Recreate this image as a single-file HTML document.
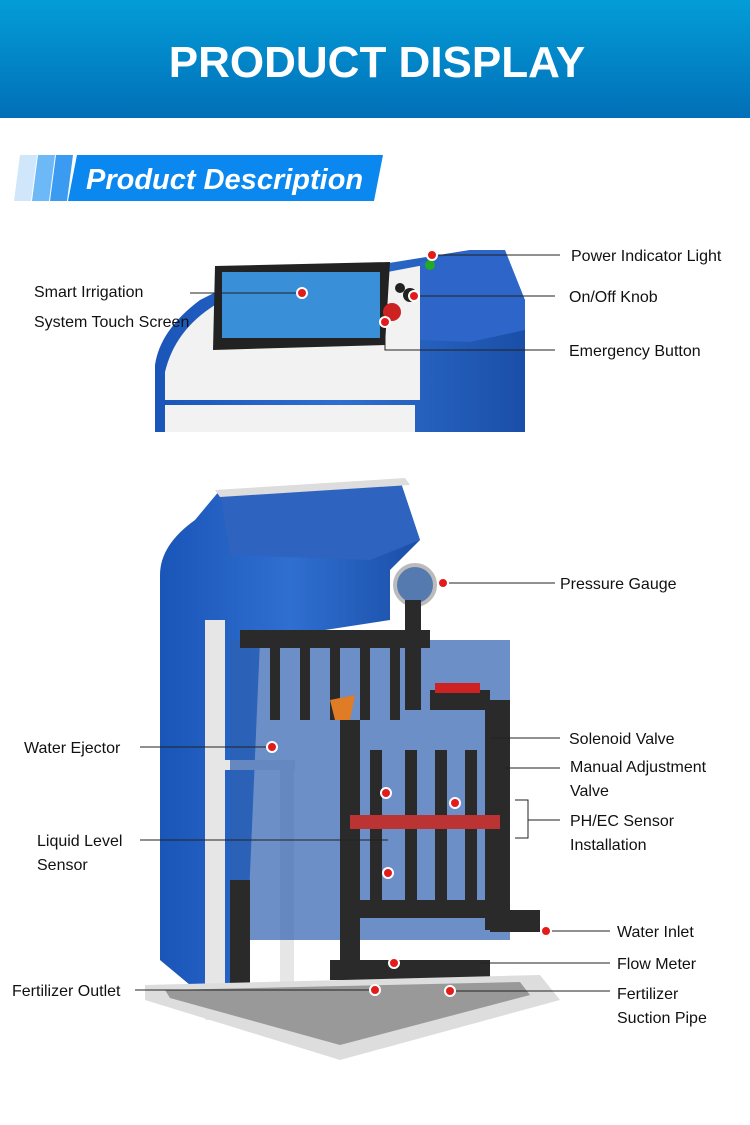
<!DOCTYPE html>
<html><head><meta charset="utf-8"><style>
body{margin:0;width:750px;height:1120px;overflow:hidden;background:#fff;font-family:"Liberation Sans",sans-serif}
</style></head><body>
<svg width="750" height="1120" xmlns="http://www.w3.org/2000/svg" font-family="Liberation Sans, sans-serif">
<defs>
<linearGradient id="hg" x1="0" y1="0" x2="0" y2="1"><stop offset="0" stop-color="#039dd8"/><stop offset="1" stop-color="#026fb7"/></linearGradient>
<linearGradient id="bl" x1="0" y1="0" x2="1" y2="0"><stop offset="0" stop-color="#1a55b8"/><stop offset="0.5" stop-color="#2f6fd0"/><stop offset="1" stop-color="#1a4fa8"/></linearGradient>
</defs>
<rect width="750" height="118" fill="url(#hg)"/>
<text x="377" y="77" text-anchor="middle" fill="#fff" font-size="44" font-weight="bold">PRODUCT DISPLAY</text>
<polygon points="20,155 37,155 31,201 14,201" fill="#cfe6fb"/>
<polygon points="38,155 55,155 49,201 32,201" fill="#6db8f6"/>
<polygon points="56,155 73,155 67,201 50,201" fill="#3a9bf0"/>
<polygon points="77,155 383,155 374,201 68,201" fill="#0a88f0"/>
<text x="86" y="189" fill="#fff" font-size="29" font-weight="bold" font-style="italic">Product Description</text>

<path d="M155,432 L155,365 Q160,330 200,300 L220,290 L470,250 L490,250 L525,330 L525,432 Z" fill="url(#bl)"/>
<path d="M165,432 L165,372 Q175,330 215,305 L440,262 L470,262 L420,340 L420,400 L165,400 Z" fill="#f2f2f2"/>
<rect x="165" y="405" width="250" height="27" fill="#f2f2f2"/>
<polygon points="420,262 470,250 505,250 525,300 525,330 470,342 420,340" fill="#2d66c8"/>
<polygon points="215,266 390,262 385,345 213,350" fill="#222"/>
<rect x="222" y="272" width="158" height="66" fill="#3a90d8"/>
<circle cx="392" cy="312" r="9" fill="#c22"/>
<circle cx="400" cy="288" r="5" fill="#222"/><circle cx="410" cy="295" r="7" fill="#222"/><circle cx="430" cy="265" r="5" fill="#2a2"/>

<path d="M160,575 Q160,545 195,520 L220,490 L400,480 L420,540 L390,570 L390,620 L260,640 L245,990 L190,985 L160,960 Z" fill="url(#bl)"/>
<polygon points="220,490 400,480 420,540 370,560 230,555" fill="#2e64c0"/>
<polygon points="215,490 405,478 410,485 220,497" fill="#ddd"/>
<circle cx="415" cy="585" r="20" fill="#557ab0" stroke="#bbb" stroke-width="4"/>
<rect x="205" y="620" width="20" height="400" fill="#e6e6e6"/>
<rect x="280" y="770" width="14" height="260" fill="#e6e6e6"/>
<rect x="205" y="760" width="90" height="10" fill="#e6e6e6"/>
<rect x="230" y="640" width="280" height="300" fill="#2d5fb0" opacity="0.7"/>
<g fill="#2a2a2a">
<rect x="240" y="630" width="190" height="18"/>
<rect x="270" y="640" width="10" height="80"/><rect x="300" y="640" width="10" height="80"/><rect x="330" y="640" width="10" height="80"/><rect x="360" y="640" width="10" height="80"/><rect x="390" y="640" width="10" height="80"/>
<rect x="405" y="600" width="16" height="110"/>
<rect x="340" y="720" width="20" height="260"/>
<rect x="485" y="700" width="25" height="230"/>
<rect x="490" y="910" width="50" height="22"/>
<rect x="370" y="750" width="12" height="150"/><rect x="405" y="750" width="12" height="150"/><rect x="435" y="750" width="12" height="150"/><rect x="465" y="750" width="12" height="150"/>
<rect x="230" y="880" width="20" height="110"/>
<rect x="330" y="960" width="160" height="20"/>
<rect x="350" y="900" width="150" height="18"/>
<rect x="430" y="690" width="60" height="20"/>
</g>
<polygon points="330,700 355,695 350,720 335,720" fill="#e07b26"/>
<rect x="350" y="815" width="150" height="14" fill="#b33"/>
<rect x="435" y="683" width="45" height="10" fill="#c22"/>
<polygon points="145,985 540,975 560,1000 340,1060 145,1000" fill="#ddd"/>
<polygon points="165,990 520,982 530,995 340,1045 170,998" fill="#999"/>

<g stroke="#222" stroke-width="1" fill="none">
<line x1="190" y1="293" x2="300" y2="293"/>
<line x1="432" y1="255" x2="560" y2="255"/>
<line x1="414" y1="296" x2="555" y2="296"/>
<polyline points="385,322 385,350 555,350"/>
<line x1="443" y1="583" x2="555" y2="583"/>
<line x1="140" y1="747" x2="272" y2="747"/>
<line x1="140" y1="840" x2="388" y2="840"/>
<line x1="490" y1="738" x2="560" y2="738"/>
<line x1="505" y1="768" x2="560" y2="768"/>
<polyline points="515,800 528,800 528,838 515,838"/>
<line x1="528" y1="820" x2="560" y2="820"/>
<line x1="548" y1="931" x2="610" y2="931"/>
<line x1="480" y1="963" x2="610" y2="963"/>
<line x1="450" y1="991" x2="610" y2="991"/>
<line x1="135" y1="990" x2="375" y2="990"/>
</g>
<g fill="#e31b1b" stroke="#fff" stroke-width="2">
<circle cx="302" cy="293" r="5"/><circle cx="432" cy="255" r="5"/><circle cx="414" cy="296" r="5"/><circle cx="385" cy="322" r="5"/>
<circle cx="443" cy="583" r="5"/><circle cx="272" cy="747" r="5"/><circle cx="386" cy="793" r="5"/><circle cx="455" cy="803" r="5"/>
<circle cx="388" cy="873" r="5"/><circle cx="546" cy="931" r="5"/><circle cx="394" cy="963" r="5"/><circle cx="375" cy="990" r="5"/><circle cx="450" cy="991" r="5"/>
</g>
<g fill="#111" font-size="16">
<text x="34" y="297">Smart Irrigation</text>
<text x="34" y="327">System Touch Screen</text>
<text x="571" y="261">Power Indicator Light</text>
<text x="569" y="302">On/Off Knob</text>
<text x="569" y="356">Emergency Button</text>
<text x="560" y="589">Pressure Gauge</text>
<text x="24" y="753">Water Ejector</text>
<text x="569" y="744">Solenoid Valve</text>
<text x="570" y="772">Manual Adjustment</text>
<text x="570" y="796">Valve</text>
<text x="570" y="826">PH/EC Sensor</text>
<text x="570" y="850">Installation</text>
<text x="37" y="846">Liquid Level</text>
<text x="37" y="870">Sensor</text>
<text x="617" y="937">Water Inlet</text>
<text x="617" y="969">Flow Meter</text>
<text x="12" y="996">Fertilizer Outlet</text>
<text x="617" y="999">Fertilizer</text>
<text x="617" y="1023">Suction Pipe</text>
</g>
</svg>
</body></html>
